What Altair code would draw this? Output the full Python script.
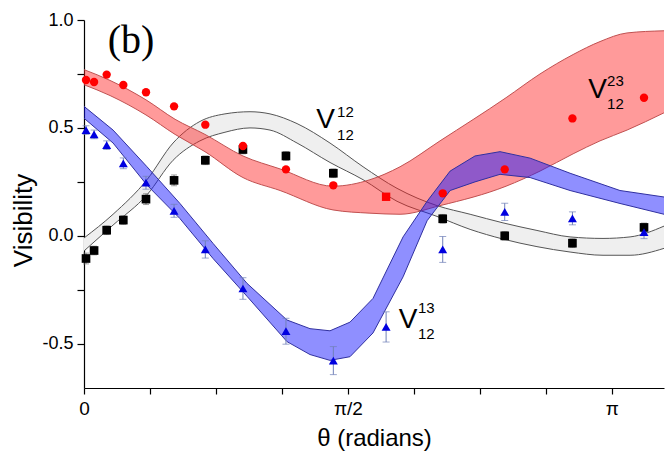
import math
import altair as alt
import pandas as pd

PI = math.pi

# ---------------- data ----------------
theta_pts = [0.012, 0.06, 0.135, 0.234, 0.369, 0.536, 0.722, 0.946, 1.202, 1.484, 1.798, 2.135, 2.504, 2.907, 3.333]

sq_theta = [0.012, 0.06, 0.135, 0.234, 0.369, 0.536, 0.722, 0.946, 1.202, 1.484, 2.135, 2.504, 2.907, 3.333]
sq_vis = [-0.105, -0.068, 0.026, 0.073, 0.17, 0.257, 0.35, 0.40, 0.37, 0.29, 0.079, 0.0, -0.034, 0.039]
sq_err = [0.025, 0.02, 0.02, 0.02, 0.025, 0.025, 0.02, 0.02, 0.02, 0.02, 0.02, 0.02, 0.02, 0.02]

circ_vis = [0.722, 0.713, 0.747, 0.699, 0.665, 0.60, 0.515, 0.416, 0.308, 0.234, 0.181, 0.197, 0.308, 0.544, 0.64]
circ_shape = ["circle"] * 10 + ["square"] + ["circle"] * 4

tri_vis = [0.49, 0.47, 0.42, 0.336, 0.246, 0.116, -0.063, -0.244, -0.442, -0.578, -0.422, -0.063, 0.111, 0.081, 0.017]
tri_err = [0.02, 0.02, 0.02, 0.025, 0.03, 0.03, 0.04, 0.05, 0.06, 0.065, 0.07, 0.06, 0.04, 0.03, 0.03]

red_x = [0.0, 0.155, 0.369, 0.542, 0.720, 0.946, 1.167, 1.482, 1.702, 1.881, 2.119, 2.512, 2.714, 2.911, 3.071, 3.232, 3.452]
red_hi = [0.77, 0.72, 0.63, 0.54, 0.47, 0.37, 0.31, 0.23, 0.26, 0.32, 0.44, 0.64, 0.75, 0.84, 0.90, 0.94, 0.95]
red_lo = [0.70, 0.65, 0.56, 0.47, 0.39, 0.27, 0.21, 0.12, 0.105, 0.10, 0.14, 0.23, 0.30, 0.38, 0.44, 0.49, 0.57]

gray_x = [0.0, 0.173, 0.375, 0.530, 0.690, 0.839, 0.988, 1.107, 1.268, 1.464, 1.661, 1.863, 2.101, 2.298, 2.494, 2.696, 2.893, 3.089, 3.250, 3.452]
gray_hi = [-0.01, 0.10, 0.26, 0.43, 0.53, 0.565, 0.575, 0.565, 0.52, 0.43, 0.32, 0.22, 0.14, 0.10, 0.06, 0.025, -0.005, -0.012, -0.005, 0.045]
gray_lo = [-0.07, 0.05, 0.19, 0.35, 0.44, 0.48, 0.50, 0.49, 0.43, 0.34, 0.26, 0.16, 0.09, 0.03, -0.015, -0.05, -0.075, -0.09, -0.09, -0.058]

blue_x = [0.0, 0.173, 0.375, 0.571, 0.768, 0.970, 1.208, 1.345, 1.464, 1.583, 1.720, 1.899, 2.042, 2.179, 2.327, 2.476, 2.655, 2.893, 3.190, 3.452]
blue_hi = [0.60, 0.49, 0.32, 0.15, -0.035, -0.22, -0.39, -0.43, -0.44, -0.40, -0.29, -0.005, 0.16, 0.30, 0.37, 0.39, 0.36, 0.29, 0.21, 0.18]
blue_lo = [0.545, 0.43, 0.235, 0.08, -0.105, -0.28, -0.49, -0.55, -0.577, -0.56, -0.45, -0.19, 0.07, 0.21, 0.25, 0.285, 0.27, 0.21, 0.15, 0.10]

x_ticks = [i * PI / 8 for i in range(9)]
y_ticks = [-0.5, -0.25, 0.0, 0.25, 0.5, 0.75, 1.0]

V_labels = ["V", "V", "V"]
V_x = [1.4375, 1.929, 3.057]
V_y = [0.537, -0.391, 0.676]
sup_labels = ["12", "13", "23"]
sup_y = [0.575, -0.335, 0.718]
sub_labels = ["12", "12", "12"]
sub_y = [0.469, -0.456, 0.613]
num_x = [1.506, 1.988, 3.113]
panel_label = ["(b)"]
panel_x = [0.28]
panel_y = [0.905]

# ---------------- tables ----------------
sq_df = pd.DataFrame({"x": sq_theta, "y": sq_vis,
                      "lo": [v - e for v, e in zip(sq_vis, sq_err)],
                      "hi": [v + e for v, e in zip(sq_vis, sq_err)]})
circ_df = pd.DataFrame({"x": theta_pts, "y": circ_vis, "shape": circ_shape})
tri_df = pd.DataFrame({"x": theta_pts, "y": tri_vis,
                       "lo": [v - e for v, e in zip(tri_vis, tri_err)],
                       "hi": [v + e for v, e in zip(tri_vis, tri_err)]})
red_df = pd.DataFrame({"x": red_x, "hi": red_hi, "lo": red_lo})
gray_df = pd.DataFrame({"x": gray_x, "hi": gray_hi, "lo": gray_lo})
blue_df = pd.DataFrame({"x": blue_x, "hi": blue_hi, "lo": blue_lo})

FONT = "Liberation Sans"

x_scale = alt.Scale(domain=[0, 3.452], nice=False, zero=False)
y_scale = alt.Scale(domain=[-0.705, 1.0], nice=False, zero=False)

x_label_expr = ("datum.value < 0.01 ? '0' : abs(datum.value - PI/2) < 0.01 ? 'π/2' : "
                "abs(datum.value - PI) < 0.01 ? 'π' : ''")
y_label_expr = ("datum.value == 1 ? '1.0' : datum.value == 0.5 ? '0.5' : datum.value == 0 ? '0.0' : "
                "datum.value == -0.5 ? '-0.5' : ''")

X = alt.X("x:Q", scale=x_scale,
          axis=alt.Axis(values=x_ticks, labelExpr=x_label_expr, title="θ (radians)",
                        grid=False, tickSize=6, labelPadding=5, labelFontSize=19,
                        labelFont=FONT, titleFont=FONT, titleFontSize=24, titleFontWeight="normal",
                        titleY=50, titleBaseline="middle", labelFlush=False))
Y = alt.Y("y:Q", scale=y_scale,
          axis=alt.Axis(values=y_ticks, labelExpr=y_label_expr, title="Visibility",
                        grid=False, tickSize=7, labelPadding=4, labelFontSize=18,
                        labelFont=FONT, titleFont=FONT, titleFontSize=26, titleFontWeight="normal",
                        titleX=-61, titleY=200, titleBaseline="middle", labelFlush=False))


def band(df, fill, opacity, edge, interp):
    area = alt.Chart(df).mark_area(color=fill, opacity=opacity, interpolate=interp, clip=True).encode(
        x=alt.X("x:Q", scale=x_scale), y=alt.Y("hi:Q", scale=y_scale), y2="lo:Q")
    up = alt.Chart(df).mark_line(color=edge, strokeWidth=1, interpolate=interp, clip=True).encode(
        x=alt.X("x:Q", scale=x_scale), y=alt.Y("hi:Q", scale=y_scale))
    dn = alt.Chart(df).mark_line(color=edge, strokeWidth=1, interpolate=interp, clip=True).encode(
        x=alt.X("x:Q", scale=x_scale), y=alt.Y("lo:Q", scale=y_scale))
    return area + up + dn


base = alt.Chart(sq_df).mark_point(opacity=0).encode(x=X, y=Y)

gray_band = band(gray_df, "#efefef", 1.0, "#555555", "monotone")
red_band = band(red_df, "#ff2020", 0.45, "#c05050", "monotone")
blue_band = band(blue_df, "#1010ff", 0.47, "#3030a0", "linear")

sq_err_rule = alt.Chart(sq_df).mark_rule(color="#777777", strokeWidth=1).encode(
    x=alt.X("x:Q", scale=x_scale), y=alt.Y("lo:Q", scale=y_scale), y2="hi:Q")
sq_err_cap = (alt.Chart(sq_df).mark_tick(color="#777777", orient="horizontal", size=6, thickness=1).encode(
    x=alt.X("x:Q", scale=x_scale), y=alt.Y("lo:Q", scale=y_scale))
    + alt.Chart(sq_df).mark_tick(color="#777777", orient="horizontal", size=6, thickness=1).encode(
    x=alt.X("x:Q", scale=x_scale), y=alt.Y("hi:Q", scale=y_scale)))
tri_err_rule = alt.Chart(tri_df).mark_rule(color="#7080b8", strokeWidth=1).encode(
    x=alt.X("x:Q", scale=x_scale), y=alt.Y("lo:Q", scale=y_scale), y2="hi:Q")
tri_err_cap = (alt.Chart(tri_df).mark_tick(color="#7080b8", orient="horizontal", size=7, thickness=1).encode(
    x=alt.X("x:Q", scale=x_scale), y=alt.Y("lo:Q", scale=y_scale))
    + alt.Chart(tri_df).mark_tick(color="#7080b8", orient="horizontal", size=7, thickness=1).encode(
    x=alt.X("x:Q", scale=x_scale), y=alt.Y("hi:Q", scale=y_scale)))

squares = alt.Chart(sq_df).mark_point(shape="square", filled=True, color="black", size=75, opacity=1).encode(
    x=alt.X("x:Q", scale=x_scale), y=alt.Y("y:Q", scale=y_scale))
triangles = alt.Chart(tri_df).mark_point(shape="triangle-up", filled=True, color="#0000e0", size=80, opacity=1).encode(
    x=alt.X("x:Q", scale=x_scale), y=alt.Y("y:Q", scale=y_scale))
circles = alt.Chart(circ_df).mark_point(filled=True, color="#ff0000", size=70, opacity=1).encode(
    x=alt.X("x:Q", scale=x_scale), y=alt.Y("y:Q", scale=y_scale),
    shape=alt.Shape("shape:N", scale=None))

v_df = pd.DataFrame({"x": V_x, "y": V_y, "t": V_labels})
sup_df = pd.DataFrame({"x": num_x, "y": sup_y, "t": sup_labels})
sub_df = pd.DataFrame({"x": num_x, "y": sub_y, "t": sub_labels})
panel_df = pd.DataFrame({"x": panel_x, "y": panel_y, "t": panel_label})

v_text = alt.Chart(v_df).mark_text(font=FONT, fontSize=28, align="center", baseline="middle", color="black").encode(
    x=alt.X("x:Q", scale=x_scale), y=alt.Y("y:Q", scale=y_scale), text="t:N")
sup_text = alt.Chart(sup_df).mark_text(font=FONT, fontSize=15, align="left", baseline="middle", color="black").encode(
    x=alt.X("x:Q", scale=x_scale), y=alt.Y("y:Q", scale=y_scale), text="t:N")
sub_text = alt.Chart(sub_df).mark_text(font=FONT, fontSize=15, align="left", baseline="middle", color="black").encode(
    x=alt.X("x:Q", scale=x_scale), y=alt.Y("y:Q", scale=y_scale), text="t:N")
panel_text = alt.Chart(panel_df).mark_text(font="Liberation Serif", fontSize=40, align="center", baseline="middle", color="black").encode(
    x=alt.X("x:Q", scale=x_scale), y=alt.Y("y:Q", scale=y_scale), text="t:N")

chart = alt.layer(
    base, gray_band, red_band, blue_band,
    sq_err_rule, sq_err_cap, tri_err_rule, tri_err_cap,
    squares, triangles, circles,
    v_text, sup_text, sub_text, panel_text,
).properties(
    width=580, height=368,
    padding={"left": 84, "top": 20, "right": 3, "bottom": 70},
    autosize=alt.AutoSizeParams(type="none"),
    background="white",
).configure_view(stroke=None).configure_axis(
    domainColor="black", tickColor="black", labelColor="black", titleColor="black", domainWidth=1.2, tickWidth=1.2
)

chart.save("out.html", embed_options={"renderer": "svg", "actions": False})
